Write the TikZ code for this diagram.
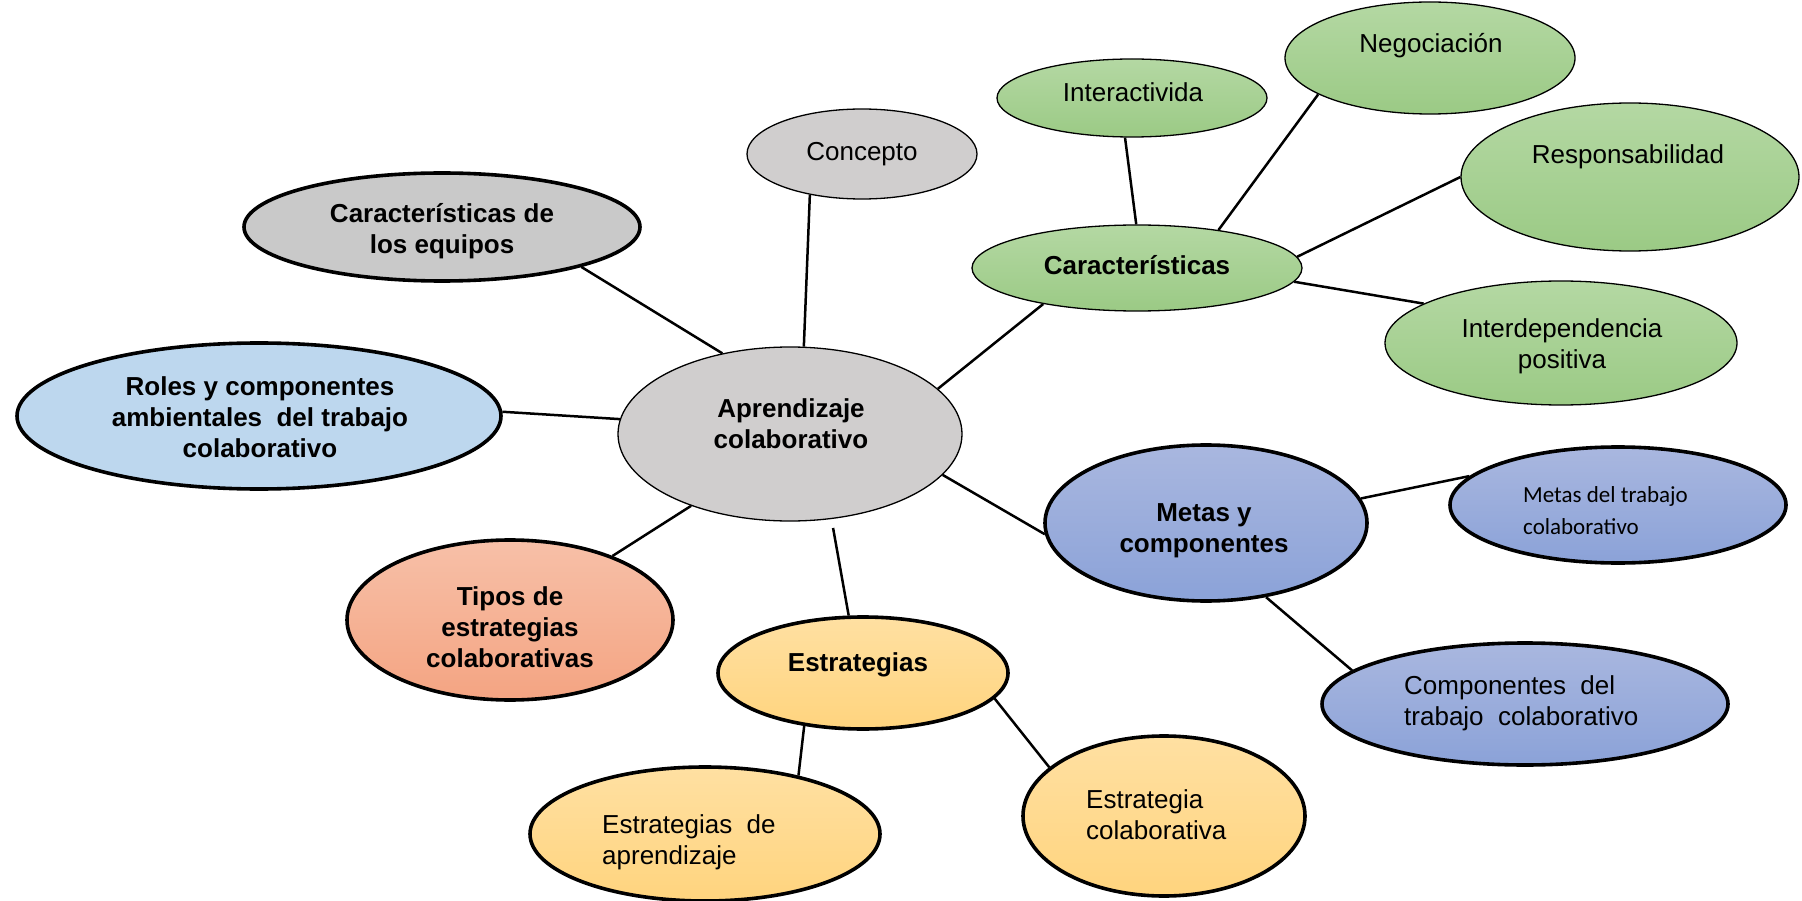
\documentclass[tikz,border=0pt]{standalone}
\usepackage{fontspec}
\setmainfont{Liberation Sans}
\newfontfamily\calibri{Carlito}
\usetikzlibrary{shapes.geometric}
\definecolor{cgray}{HTML}{D0CECE}
\definecolor{cgrayB}{HTML}{C9C9C9}
\definecolor{cblue}{HTML}{BDD7EE}
\definecolor{gtop}{HTML}{B4D8A3}
\definecolor{gbot}{HTML}{9BCA85}
\definecolor{btop}{HTML}{A9B7DF}
\definecolor{bbot}{HTML}{8BA2D8}
\definecolor{otop}{HTML}{FFE0A2}
\definecolor{obot}{HTML}{FFD47E}
\definecolor{stop}{HTML}{F7C0A8}
\definecolor{sbot}{HTML}{F4A482}
\begin{document}
\begin{tikzpicture}[x=1pt,y=-1pt,
  ell/.style={ellipse, inner sep=0pt, draw=black},
  bthin/.style={line width=1.3pt},
  bthick/.style={line width=3.6pt},
  green/.style={ell, bthin, top color=gtop, bottom color=gbot},
  blueg/.style={ell, bthick, top color=btop, bottom color=bbot},
  gold/.style={ell, bthick, top color=otop, bottom color=obot},
  conn/.style={line width=2.5pt},
  txt/.style={font=\fontsize{26}{31}\selectfont, align=center, inner sep=0pt},
  btxt/.style={font=\fontsize{26}{31}\selectfont\bfseries, align=center, inner sep=0pt},
]
\useasboundingbox (0,0) rectangle (1802,901);
% ellipses
\node[ell, bthin, fill=cgray, minimum width=230pt, minimum height=90pt] (con) at (862,154) {};
\node[ell, bthick, fill=cgrayB, minimum width=396pt, minimum height=108pt] (equ) at (442,227) {};
\node[ell, bthick, fill=cblue, minimum width=484pt, minimum height=146pt] (rol) at (259,416) {};
\node[ell, bthin, fill=cgray, minimum width=344pt, minimum height=174pt] (apr) at (790,434) {};
\node[ell, bthick, top color=stop, bottom color=sbot, minimum width=326pt, minimum height=160pt] (tip) at (510,620) {};
\node[gold, minimum width=290pt, minimum height=112pt] (est) at (863,673) {};
\node[gold, minimum width=350pt, minimum height=134pt] (esa) at (705,834) {};
\node[gold, minimum width=282pt, minimum height=160pt] (esc) at (1164,816) {};
\node[blueg, minimum width=322pt, minimum height=156pt] (met) at (1206,523) {};
\node[blueg, minimum width=336pt, minimum height=116pt] (mdt) at (1618,505) {};
\node[blueg, minimum width=406pt, minimum height=122pt] (cdt) at (1525,704) {};
\node[green, minimum width=330pt, minimum height=86pt] (car) at (1137,268) {};
\node[green, minimum width=270pt, minimum height=78pt] (int) at (1132,98) {};
\node[green, minimum width=290pt, minimum height=112pt] (neg) at (1430,58) {};
\node[green, minimum width=338pt, minimum height=148pt] (res) at (1630,177) {};
\node[green, minimum width=352pt, minimum height=124pt] (ind) at (1561,343) {};
% texts
\node[txt] (tcon) at (862,154) {Concepto};
\node[btxt] (tequ) at (442,231) {Características de\\los equipos};
\node[btxt] (trol) at (260,417) {Roles y componentes\\ambientales\ \ del trabajo\\colaborativo};
\node[btxt] (tapr) at (791,424) {Aprendizaje\\colaborativo};
\node[btxt] (ttip) at (510,627) {Tipos de\\estrategias\\colaborativas};
\node[btxt] (test) at (858,665) {Estrategias};
\node[txt, align=left, anchor=west] (tesa) at (602,842) {Estrategias\ \ de\\aprendizaje};
\node[txt, align=left, anchor=west] (tesc) at (1086,815) {Estrategia\\colaborativa};
\node[btxt] (tmet) at (1204,531) {Metas y\\componentes};
\node[txt, font=\calibri\fontsize{23}{32}\selectfont, align=left, anchor=west] (tmdt) at (1523,511) {Metas del trabajo\\colaborativo};
\node[txt, align=left, anchor=west] (tcdt) at (1404,703) {Componentes\ \ del\\trabajo\ \ colaborativo};
\node[btxt] (tcar) at (1137,265) {Características};
\node[txt] (tint) at (1133,92) {Interactivida};
\node[txt] (tneg) at (1431,46) {Negociación};
\node[txt] (tres) at (1628,157) {Responsabilidad};
\node[txt] (tind) at (1562,346) {Interdependencia\\positiva};
% connectors
\draw[conn] (con.218) -- (apr.81.6);
\draw[conn] (equ.344) -- (apr.130);
\draw[conn] (rol.1) -- (apr.175);
\draw[conn] (tip.32) -- (apr.216);
\draw[conn, shorten >=9pt] (est.104) -- (apr.296);
\draw[conn] (met.184) -- (apr.345);
\draw[conn] (car.201) -- (apr.17);
\draw[conn] (car.91.5) -- (int.260);
\draw[conn] (car.25) -- (neg.198);
\draw[conn] (car.4) -- (res.180);
\draw[conn] (car.355) -- (ind.164);
\draw[conn] (met.9) -- (mdt.169);
\draw[conn] (met.309) -- (cdt.169);
\draw[conn] (est.222) -- (esa.32);
\draw[conn] (est.349) -- (esc.157);
\end{tikzpicture}
\end{document}
